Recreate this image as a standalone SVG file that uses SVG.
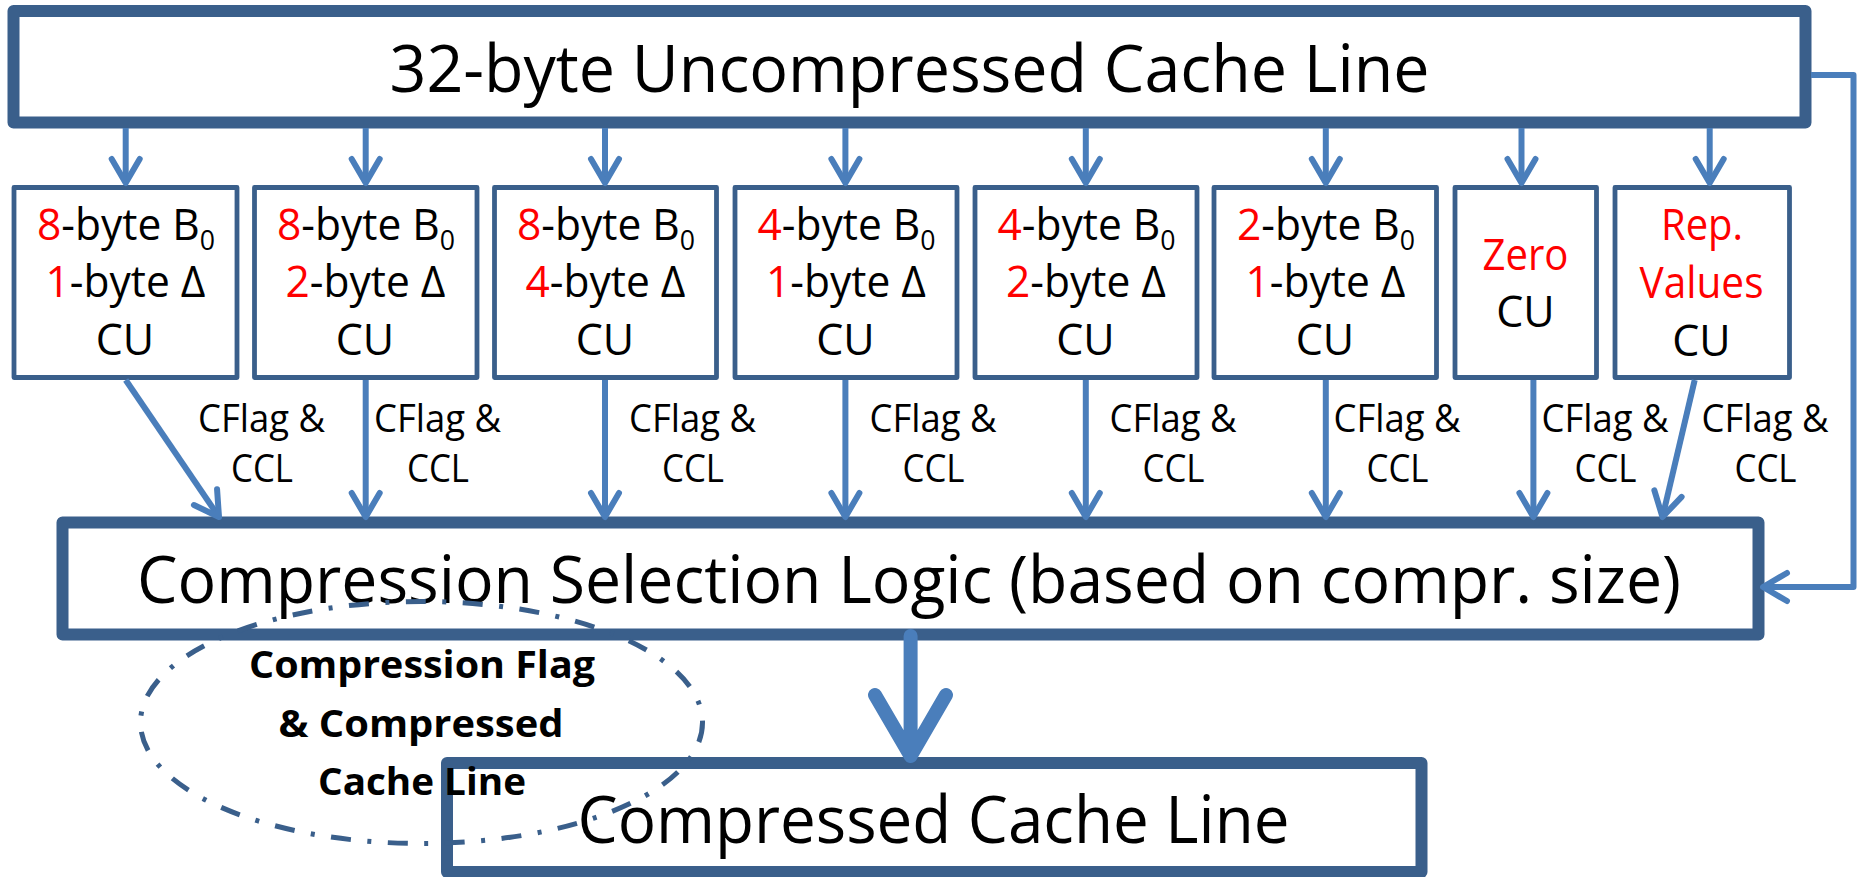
<svg xmlns="http://www.w3.org/2000/svg" width="1860" height="877" viewBox="0 0 1860 877">
  <defs>
    <style>
      .box { fill: #ffffff; stroke: #3A5F8B; stroke-linejoin: round; }
      .big { stroke-width: 12; }
      .unit { stroke-width: 4.8; }
      .txt { font-family: "Open Sans", "Noto Sans", "Liberation Sans", sans-serif; fill: #000000; text-anchor: middle; }
      .title { font-size: 66px; }
      .cu { font-size: 43px; }
      .lbl { font-size: 38px; }
      .note { font-size: 38px; font-weight: bold; }
      .red { fill: #FF0000; }
      .wire { fill: none; stroke: #4A7EBB; stroke-width: 6; stroke-linecap: butt; stroke-linejoin: round; }
    </style>
    <marker id="head" markerUnits="userSpaceOnUse" markerWidth="40" markerHeight="40" refX="0" refY="0" orient="auto" overflow="visible">
      <path d="M-24,-14 L0,0 L-24,14" fill="none" stroke="#4A7EBB" stroke-width="6" stroke-linecap="round" stroke-linejoin="round"/>
    </marker>
  </defs>

  <rect x="0" y="0" width="1860" height="877" fill="#ffffff"/>

  <!-- source line -->
  <g id="uncompressed-line">
    <rect class="box big" x="13.5" y="11" width="1792" height="111.5"/>
    <text class="txt title" x="909.5" y="92" textLength="1040" lengthAdjust="spacingAndGlyphs">32-byte Uncompressed Cache Line</text>
  </g>

  <!-- compressor units -->
  <g id="cu-8-1">
    <rect class="box unit" x="14" y="187.5" width="223" height="190"/>
    <text class="txt cu" x="126" y="240" textLength="178" lengthAdjust="spacingAndGlyphs"><tspan class="red">8</tspan>-byte B<tspan font-size="27" dy="10">0</tspan></text>
    <text class="txt cu" x="125.5" y="297" textLength="160" lengthAdjust="spacingAndGlyphs"><tspan class="red">1</tspan>-byte Δ</text>
    <text class="txt cu" x="125" y="355">CU</text>
  </g>
  <g id="cu-8-2">
    <rect class="box unit" x="254.5" y="187.5" width="222.5" height="190"/>
    <text class="txt cu" x="366" y="240" textLength="178" lengthAdjust="spacingAndGlyphs"><tspan class="red">8</tspan>-byte B<tspan font-size="27" dy="10">0</tspan></text>
    <text class="txt cu" x="365.5" y="297" textLength="160" lengthAdjust="spacingAndGlyphs"><tspan class="red">2</tspan>-byte Δ</text>
    <text class="txt cu" x="365" y="355">CU</text>
  </g>
  <g id="cu-8-4">
    <rect class="box unit" x="494.5" y="187.5" width="222" height="190"/>
    <text class="txt cu" x="606" y="240" textLength="178" lengthAdjust="spacingAndGlyphs"><tspan class="red">8</tspan>-byte B<tspan font-size="27" dy="10">0</tspan></text>
    <text class="txt cu" x="605.5" y="297" textLength="160" lengthAdjust="spacingAndGlyphs"><tspan class="red">4</tspan>-byte Δ</text>
    <text class="txt cu" x="605" y="355">CU</text>
  </g>
  <g id="cu-4-1">
    <rect class="box unit" x="735" y="187.5" width="222" height="190"/>
    <text class="txt cu" x="846.5" y="240" textLength="178" lengthAdjust="spacingAndGlyphs"><tspan class="red">4</tspan>-byte B<tspan font-size="27" dy="10">0</tspan></text>
    <text class="txt cu" x="846" y="297" textLength="160" lengthAdjust="spacingAndGlyphs"><tspan class="red">1</tspan>-byte Δ</text>
    <text class="txt cu" x="845.5" y="355">CU</text>
  </g>
  <g id="cu-4-2">
    <rect class="box unit" x="975" y="187.5" width="222" height="190"/>
    <text class="txt cu" x="1086.5" y="240" textLength="178" lengthAdjust="spacingAndGlyphs"><tspan class="red">4</tspan>-byte B<tspan font-size="27" dy="10">0</tspan></text>
    <text class="txt cu" x="1086" y="297" textLength="160" lengthAdjust="spacingAndGlyphs"><tspan class="red">2</tspan>-byte Δ</text>
    <text class="txt cu" x="1085.5" y="355">CU</text>
  </g>
  <g id="cu-2-1">
    <rect class="box unit" x="1214" y="187.5" width="222.5" height="190"/>
    <text class="txt cu" x="1326" y="240" textLength="178" lengthAdjust="spacingAndGlyphs"><tspan class="red">2</tspan>-byte B<tspan font-size="27" dy="10">0</tspan></text>
    <text class="txt cu" x="1325.5" y="297" textLength="160" lengthAdjust="spacingAndGlyphs"><tspan class="red">1</tspan>-byte Δ</text>
    <text class="txt cu" x="1325" y="355">CU</text>
  </g>
  <g id="cu-zero">
    <rect class="box unit" x="1455" y="187.5" width="141.5" height="190"/>
    <text class="txt cu red" x="1525.5" y="270" textLength="86" lengthAdjust="spacingAndGlyphs">Zero</text>
    <text class="txt cu" x="1525.5" y="327">CU</text>
  </g>
  <g id="cu-rep">
    <rect class="box unit" x="1615" y="187.5" width="174.5" height="190"/>
    <text class="txt cu red" x="1702" y="240" textLength="82" lengthAdjust="spacingAndGlyphs">Rep.</text>
    <text class="txt cu red" x="1701.5" y="298" textLength="124" lengthAdjust="spacingAndGlyphs">Values</text>
    <text class="txt cu" x="1701.5" y="356">CU</text>
  </g>

  <!-- selection logic -->
  <g id="selection-logic">
    <rect class="box big" x="62.5" y="522.5" width="1696" height="112"/>
    <text class="txt title" x="909" y="603" textLength="1544" lengthAdjust="spacingAndGlyphs">Compression Selection Logic (based on compr. size)</text>
  </g>

  <!-- output line -->
  <g id="compressed-line">
    <rect class="box big" x="447" y="763" width="974.5" height="109"/>
    <text class="txt title" x="933.5" y="843" textLength="712" lengthAdjust="spacingAndGlyphs">Compressed Cache Line</text>
  </g>

  <!-- connectors -->
  <g id="connectors">
    <!-- fan-out to the compressor units -->
    <path class="wire" d="M125.7,128 V183" marker-end="url(#head)"/>
    <path class="wire" d="M365.7,128 V183" marker-end="url(#head)"/>
    <path class="wire" d="M605,128 V183" marker-end="url(#head)"/>
    <path class="wire" d="M845.4,128 V183" marker-end="url(#head)"/>
    <path class="wire" d="M1085.8,128 V183" marker-end="url(#head)"/>
    <path class="wire" d="M1325.8,128 V183" marker-end="url(#head)"/>
    <path class="wire" d="M1521.5,128 V183" marker-end="url(#head)"/>
    <path class="wire" d="M1709.7,128 V183" marker-end="url(#head)"/>

    <!-- CFlag & CCL into selection logic -->
    <path class="wire" d="M125.7,380 L219,517" marker-end="url(#head)"/>
    <path class="wire" d="M365.7,380 V517" marker-end="url(#head)"/>
    <path class="wire" d="M605,380 V517" marker-end="url(#head)"/>
    <path class="wire" d="M845.4,380 V517" marker-end="url(#head)"/>
    <path class="wire" d="M1085.8,380 V517" marker-end="url(#head)"/>
    <path class="wire" d="M1325.8,380 V517" marker-end="url(#head)"/>
    <path class="wire" d="M1533.4,380 V517" marker-end="url(#head)"/>
    <path class="wire" d="M1694.7,380 L1662.5,517" marker-end="url(#head)"/>

    <!-- bypass of the uncompressed line -->
    <path class="wire" d="M1811,75 H1853.5 V587 H1763" marker-end="url(#head)"/>

    <!-- selected result -->
    <path d="M910.6,636 V752 M875,695 L910.6,756 L946,695" fill="none" stroke="#4A7EBB" stroke-width="14" stroke-linecap="round" stroke-linejoin="round"/>
  </g>

  <!-- edge labels -->
  <g id="edge-labels">
    <text class="txt lbl" x="261.5" y="432" textLength="127" lengthAdjust="spacingAndGlyphs">CFlag &amp;</text>
    <text class="txt lbl" x="262" y="482" textLength="62" lengthAdjust="spacingAndGlyphs">CCL</text>
    <text class="txt lbl" x="437.5" y="432" textLength="127" lengthAdjust="spacingAndGlyphs">CFlag &amp;</text>
    <text class="txt lbl" x="438" y="482" textLength="62" lengthAdjust="spacingAndGlyphs">CCL</text>
    <text class="txt lbl" x="692.5" y="432" textLength="127" lengthAdjust="spacingAndGlyphs">CFlag &amp;</text>
    <text class="txt lbl" x="693" y="482" textLength="62" lengthAdjust="spacingAndGlyphs">CCL</text>
    <text class="txt lbl" x="933" y="432" textLength="127" lengthAdjust="spacingAndGlyphs">CFlag &amp;</text>
    <text class="txt lbl" x="933.5" y="482" textLength="62" lengthAdjust="spacingAndGlyphs">CCL</text>
    <text class="txt lbl" x="1173" y="432" textLength="127" lengthAdjust="spacingAndGlyphs">CFlag &amp;</text>
    <text class="txt lbl" x="1173.5" y="482" textLength="62" lengthAdjust="spacingAndGlyphs">CCL</text>
    <text class="txt lbl" x="1397" y="432" textLength="127" lengthAdjust="spacingAndGlyphs">CFlag &amp;</text>
    <text class="txt lbl" x="1397.5" y="482" textLength="62" lengthAdjust="spacingAndGlyphs">CCL</text>
    <text class="txt lbl" x="1605" y="432" textLength="127" lengthAdjust="spacingAndGlyphs">CFlag &amp;</text>
    <text class="txt lbl" x="1605.5" y="482" textLength="62" lengthAdjust="spacingAndGlyphs">CCL</text>
    <text class="txt lbl" x="1765" y="432" textLength="127" lengthAdjust="spacingAndGlyphs">CFlag &amp;</text>
    <text class="txt lbl" x="1765.5" y="482" textLength="62" lengthAdjust="spacingAndGlyphs">CCL</text>
  </g>

  <!-- output annotation -->
  <g id="output-note">
    <ellipse cx="421.5" cy="722.5" rx="281" ry="121" fill="none" stroke="#3A5F8B" stroke-width="5" stroke-dasharray="20 16.5 4 16.5"/>
    <text class="txt note" x="422" y="678" textLength="346" lengthAdjust="spacingAndGlyphs">Compression Flag</text>
    <text class="txt note" x="421" y="737" textLength="285" lengthAdjust="spacingAndGlyphs">&amp; Compressed</text>
    <text class="txt note" x="422" y="795" textLength="208" lengthAdjust="spacingAndGlyphs">Cache Line</text>
  </g>
</svg>
